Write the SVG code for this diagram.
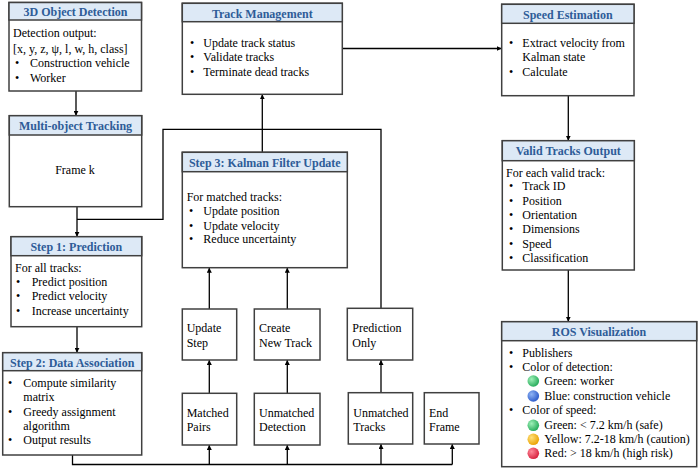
<svg xmlns="http://www.w3.org/2000/svg" width="698" height="469" viewBox="0 0 698 469">
<style>
.box{fill:#fff;stroke:#404040;stroke-width:1.5}
.hdr{fill:#dde9f6;stroke:#404040;stroke-width:1.5}
.t{font-family:"Liberation Serif","Times New Roman",serif;font-size:12px;fill:#000}
.h{font-family:"Liberation Serif","Times New Roman",serif;font-size:12px;font-weight:bold;fill:#2e5c98;text-anchor:middle}
.c{stroke:#000;stroke-width:1.3;fill:none}
.a{marker-end:url(#arr)}
</style>
<defs>
<marker id="arr" viewBox="0 0 6 6" refX="6" refY="3" markerWidth="5" markerHeight="5" markerUnits="userSpaceOnUse" orient="auto">
<path d="M0,0 L6,3 L0,6 z" fill="#000"/>
</marker>
<radialGradient id="gG" cx="0.35" cy="0.35" r="0.7"><stop offset="0" stop-color="#9ff0b8"/><stop offset="1" stop-color="#22a957"/></radialGradient>
<radialGradient id="gB" cx="0.35" cy="0.35" r="0.7"><stop offset="0" stop-color="#8fb4f5"/><stop offset="1" stop-color="#2a58c8"/></radialGradient>
<radialGradient id="gY" cx="0.35" cy="0.35" r="0.7"><stop offset="0" stop-color="#ffe07a"/><stop offset="1" stop-color="#e9a100"/></radialGradient>
<radialGradient id="gR" cx="0.35" cy="0.35" r="0.7"><stop offset="0" stop-color="#ff8a9a"/><stop offset="1" stop-color="#d61f3c"/></radialGradient>
</defs>

<g id="connectors">
<path class="c a" d="M76,91 V115.7"/>
<path class="c a" d="M77,206.7 V236.7"/>
<path class="c" d="M77,219.3 H163 V129.3 H381 V308.3"/>
<path class="c a" d="M262.3,152.3 V94.3"/>
<path class="c a" d="M342.3,48.5 H501.7"/>
<path class="c a" d="M568.3,95.7 V140.7"/>
<path class="c a" d="M568.3,270 V321.7"/>
<path class="c a" d="M77,326.7 V352.7"/>
<path class="c" d="M72.5,455 V464.5 H452.3"/>
<path class="c a" d="M209.3,464.5 V445"/>
<path class="c a" d="M287.3,464.5 V445"/>
<path class="c a" d="M381,464.5 V444"/>
<path class="c a" d="M452.3,464.5 V444"/>
<path class="c a" d="M209.3,393.3 V360"/>
<path class="c a" d="M287.3,393.3 V360"/>
<path class="c a" d="M381,392.7 V360"/>
<path class="c a" d="M209.3,309 V267.7"/>
<path class="c a" d="M287.3,309 V267.7"/>
</g>

<g id="n3d">
<rect class="box" x="9" y="2.5" width="132.5" height="88.5"/>
<rect class="hdr" x="9" y="2.5" width="132.5" height="17.5"/>
<text class="h" x="75.5" y="16">3D Object Detection</text>
<text class="t" x="13" y="36.5">Detection output:</text>
<text class="t" x="13" y="52.5">[x, y, z, ψ, l, w, h, class]</text>
<text class="t" x="15" y="67">•</text><text class="t" x="30" y="67">Construction vehicle</text>
<text class="t" x="15" y="81.5">•</text><text class="t" x="30" y="81.5">Worker</text>
</g>

<g id="nmot">
<rect class="box" x="9.3" y="115.7" width="132.4" height="91"/>
<rect class="hdr" x="9.3" y="115.7" width="132.4" height="19.3"/>
<text class="h" x="75.5" y="129.7">Multi-object Tracking</text>
<text class="t" x="75" y="174" text-anchor="middle">Frame k</text>
</g>

<g id="nstep1">
<rect class="box" x="11" y="236.7" width="130.7" height="90"/>
<rect class="hdr" x="11" y="236.7" width="130.7" height="19"/>
<text class="h" x="76.3" y="251.3">Step 1: Prediction</text>
<text class="t" x="15" y="272.3">For all tracks:</text>
<text class="t" x="16" y="285.7">•</text><text class="t" x="31.7" y="285.7">Predict position</text>
<text class="t" x="16" y="300">•</text><text class="t" x="31.7" y="300">Predict velocity</text>
<text class="t" x="16" y="315">•</text><text class="t" x="31.7" y="315">Increase uncertainty</text>
</g>

<g id="nstep2">
<rect class="box" x="2.7" y="352.7" width="139" height="102.3"/>
<rect class="hdr" x="2.7" y="352.7" width="139" height="18"/>
<text class="h" x="72.2" y="367.3">Step 2: Data Association</text>
<text class="t" x="8" y="387.3">•</text><text class="t" x="23.3" y="387.3">Compute similarity</text>
<text class="t" x="23.3" y="400.7">matrix</text>
<text class="t" x="8" y="415.7">•</text><text class="t" x="23.3" y="415.7">Greedy assignment</text>
<text class="t" x="23.3" y="430">algorithm</text>
<text class="t" x="8" y="444">•</text><text class="t" x="23.3" y="444">Output results</text>
</g>

<g id="ntrack">
<rect class="box" x="182.3" y="3.3" width="160" height="91"/>
<rect class="hdr" x="182.3" y="3.3" width="160" height="18.4"/>
<text class="h" x="262.3" y="18">Track Management</text>
<text class="t" x="190" y="47.3">•</text><text class="t" x="203.3" y="47.3">Update track status</text>
<text class="t" x="190" y="61.3">•</text><text class="t" x="203.3" y="61.3">Validate tracks</text>
<text class="t" x="190" y="75.7">•</text><text class="t" x="203.3" y="75.7">Terminate dead tracks</text>
</g>

<g id="nkalman">
<rect class="box" x="182.3" y="152.3" width="165" height="115.4"/>
<rect class="hdr" x="182.3" y="152.3" width="165" height="19.4"/>
<text class="h" x="264.8" y="166.7">Step 3: Kalman Filter Update</text>
<text class="t" x="186.7" y="201">For matched tracks:</text>
<text class="t" x="189" y="214.7">•</text><text class="t" x="203.3" y="214.7">Update position</text>
<text class="t" x="189" y="230">•</text><text class="t" x="203.3" y="230">Update velocity</text>
<text class="t" x="189" y="243">•</text><text class="t" x="203.3" y="243">Reduce uncertainty</text>
</g>

<g id="nspeed">
<rect class="box" x="501.7" y="4.3" width="132.3" height="91.4"/>
<rect class="hdr" x="501.7" y="4.3" width="132.3" height="19"/>
<text class="h" x="567.8" y="19">Speed Estimation</text>
<text class="t" x="509" y="46.7">•</text><text class="t" x="522.3" y="46.7">Extract velocity from</text>
<text class="t" x="522.3" y="61.3">Kalman state</text>
<text class="t" x="509" y="75.7">•</text><text class="t" x="522.3" y="75.7">Calculate</text>
</g>

<g id="nvalid">
<rect class="box" x="502.3" y="140.7" width="132" height="129.3"/>
<rect class="hdr" x="502.3" y="140.7" width="132" height="20"/>
<text class="h" x="568.3" y="155">Valid Tracks Output</text>
<text class="t" x="506" y="176.7">For each valid track:</text>
<text class="t" x="509" y="190">•</text><text class="t" x="522.3" y="190">Track ID</text>
<text class="t" x="509" y="204.7">•</text><text class="t" x="522.3" y="204.7">Position</text>
<text class="t" x="509" y="219">•</text><text class="t" x="522.3" y="219">Orientation</text>
<text class="t" x="509" y="233.3">•</text><text class="t" x="522.3" y="233.3">Dimensions</text>
<text class="t" x="509" y="248">•</text><text class="t" x="522.3" y="248">Speed</text>
<text class="t" x="509" y="262.3">•</text><text class="t" x="522.3" y="262.3">Classification</text>
</g>

<g id="nros">
<rect class="box" x="501.7" y="321.7" width="195" height="145"/>
<rect class="hdr" x="501.7" y="321.7" width="195" height="19"/>
<text class="h" x="599" y="335.5">ROS Visualization</text>
<text class="t" x="509" y="356.7">•</text><text class="t" x="522.3" y="356.7">Publishers</text>
<text class="t" x="509" y="371.3">•</text><text class="t" x="522.3" y="371.3">Color of detection:</text>
<circle cx="533.3" cy="381" r="5.8" fill="url(#gG)"/><text class="t" x="544.3" y="385">Green: worker</text>
<circle cx="533.3" cy="396" r="5.8" fill="url(#gB)"/><text class="t" x="544.3" y="400">Blue: construction vehicle</text>
<text class="t" x="509" y="414">•</text><text class="t" x="522.3" y="414">Color of speed:</text>
<circle cx="533.3" cy="425.3" r="5.8" fill="url(#gG)"/><text class="t" x="544.3" y="429.3">Green: &lt; 7.2 km/h (safe)</text>
<circle cx="533.3" cy="439.3" r="5.8" fill="url(#gY)"/><text class="t" x="544.3" y="443.3">Yellow: 7.2-18 km/h (caution)</text>
<circle cx="533.3" cy="453.3" r="5.8" fill="url(#gR)"/><text class="t" x="544.3" y="457.3">Red: &gt; 18 km/h (high risk)</text>
</g>

<g id="nupdate">
<rect class="box" x="182.3" y="309" width="54.4" height="51"/>
<text class="t" x="186.7" y="332.3">Update</text>
<text class="t" x="186.7" y="346.7">Step</text>
</g>
<g id="ncreate">
<rect class="box" x="254.3" y="309" width="65.7" height="51"/>
<text class="t" x="259" y="332.3">Create</text>
<text class="t" x="259" y="346.7">New Track</text>
</g>
<g id="nmatched">
<rect class="box" x="182.3" y="393.3" width="54.4" height="51.7"/>
<text class="t" x="186.7" y="416.7">Matched</text>
<text class="t" x="186.7" y="430.7">Pairs</text>
</g>
<g id="nunmdet">
<rect class="box" x="254.3" y="393.3" width="65.7" height="51.7"/>
<text class="t" x="259" y="416.7">Unmatched</text>
<text class="t" x="259" y="430.7">Detection</text>
</g>
<g id="npredonly">
<rect class="box" x="347.3" y="308.3" width="65.4" height="51.7"/>
<text class="t" x="352.3" y="332.3">Prediction</text>
<text class="t" x="352.3" y="347">Only</text>
</g>
<g id="nunmtrk">
<rect class="box" x="348.3" y="392.7" width="64.4" height="51.3"/>
<text class="t" x="353.3" y="416.7">Unmatched</text>
<text class="t" x="353.3" y="430.7">Tracks</text>
</g>
<g id="nend">
<rect class="box" x="424.3" y="392.7" width="54.7" height="51.3"/>
<text class="t" x="429" y="416.7">End</text>
<text class="t" x="429" y="430.7">Frame</text>
</g>
</svg>
